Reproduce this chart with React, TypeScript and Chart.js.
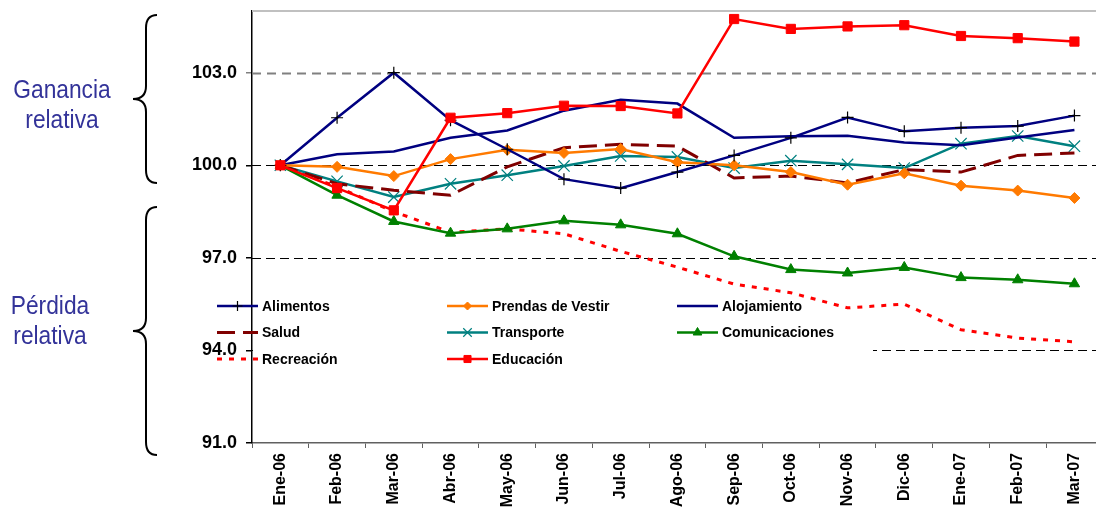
import React, { useEffect, useRef } from "react";
import { Chart, registerables } from "chart.js";
import { drawPoint } from "chart.js/helpers";

Chart.register(...registerables);

const months = ["Ene-06", "Feb-06", "Mar-06", "Abr-06", "May-06", "Jun-06", "Jul-06", "Ago-06", "Sep-06", "Oct-06", "Nov-06", "Dic-06", "Ene-07", "Feb-07", "Mar-07"];

const alimentos = [100, 101.54, 103.0, 101.46, 100.52, 99.55, 99.26, 99.78, 100.32, 100.89, 101.55, 101.1, 101.22, 101.27, 101.61];
const prendas = [100, 99.95, 99.65, 100.2, 100.5, 100.4, 100.53, 100.1, 100.0, 99.78, 99.37, 99.74, 99.34, 99.18, 98.94];
const alojamiento = [100, 100.36, 100.45, 100.89, 101.13, 101.77, 102.12, 102.0, 100.89, 100.94, 100.96, 100.74, 100.65, 100.9, 101.14];
const salud = [100, 99.4, 99.19, 99.03, 99.95, 100.57, 100.68, 100.62, 99.59, 99.65, 99.43, 99.86, 99.78, 100.32, 100.4];
const transporte = [100, 99.48, 98.97, 99.4, 99.68, 99.98, 100.3, 100.27, 99.91, 100.15, 100.03, 99.91, 100.7, 100.95, 100.62];
const comunicaciones = [100, 99.03, 98.18, 97.8, 97.94, 98.2, 98.07, 97.78, 97.05, 96.62, 96.51, 96.69, 96.36, 96.29, 96.16];
const recreacion = [100, 99.3, 98.5, 97.83, 97.94, 97.78, 97.21, 96.7, 96.15, 95.87, 95.38, 95.5, 94.67, 94.4, 94.28];
const educacion = [100, 99.26, 98.54, 101.54, 101.69, 101.93, 101.92, 101.68, 104.74, 104.42, 104.5, 104.54, 104.19, 104.12, 104.01];

const yTickValues = [91, 94, 97, 100, 103];
const yGridValues = [94, 97, 100, 103];
const yMin = 91;
const yMax = 105;

const upperLabel = ["Ganancia", "relativa"];
const lowerLabel = ["Pérdida", "relativa"];

const FONT = '"Liberation Sans", Arial, sans-serif';
Chart.defaults.font.family = FONT;

type Item = {
  label: string;
  data: number[];
  color: string;
  width: number;
  dash: number[];
  point: string | false;
  radius: number;
  pointColor: string;
  pointBorder: number;
  legendRadius: number;
};

const series: Item[] = [
  { label: "Alimentos", data: alimentos, color: "#000080", width: 2.5, dash: [], point: "cross", radius: 6, pointColor: "#000000", pointBorder: 1.2, legendRadius: 5 },
  { label: "Prendas de Vestir", data: prendas, color: "#FF7A00", width: 2.5, dash: [], point: "rectRot", radius: 5.5, pointColor: "#FF7A00", pointBorder: 1, legendRadius: 4 },
  { label: "Alojamiento", data: alojamiento, color: "#000080", width: 2.5, dash: [], point: false, radius: 0, pointColor: "#000080", pointBorder: 1, legendRadius: 0 },
  { label: "Salud", data: salud, color: "#800000", width: 3, dash: [18, 8], point: false, radius: 0, pointColor: "#800000", pointBorder: 1, legendRadius: 0 },
  { label: "Transporte", data: transporte, color: "#008080", width: 2.5, dash: [], point: "crossRot", radius: 8, pointColor: "#008080", pointBorder: 1.2, legendRadius: 6 },
  { label: "Comunicaciones", data: comunicaciones, color: "#008000", width: 2.5, dash: [], point: "triangle", radius: 6, pointColor: "#008000", pointBorder: 1, legendRadius: 5 },
  { label: "Recreación", data: recreacion, color: "#FF0000", width: 3, dash: [5, 7], point: false, radius: 0, pointColor: "#FF0000", pointBorder: 1, legendRadius: 0 },
  { label: "Educación", data: educacion, color: "#FF0000", width: 2.5, dash: [], point: "rect", radius: 6.5, pointColor: "#FF0000", pointBorder: 1, legendRadius: 5 },
];

const gridPlugin = {
  id: "customGrid",
  beforeDatasetsDraw(chart: any) {
    const { ctx, chartArea, scales } = chart;
    const y = scales.y;
    ctx.save();
    ctx.strokeStyle = "#c0c0c0";
    ctx.lineWidth = 2;
    ctx.beginPath();
    ctx.moveTo(chartArea.left, chartArea.top);
    ctx.lineTo(chartArea.right, chartArea.top);
    ctx.stroke();
    for (const v of yGridValues) {
      const py = Math.round(y.getPixelForValue(v)) + 0.5;
      if (v === 103) {
        ctx.strokeStyle = "#808080";
        ctx.lineWidth = 2;
        ctx.setLineDash([9, 6]);
      } else {
        ctx.strokeStyle = "#000000";
        ctx.lineWidth = 1;
        ctx.setLineDash([9, 5]);
      }
      ctx.beginPath();
      ctx.moveTo(chartArea.left, py);
      ctx.lineTo(chartArea.right, py);
      ctx.stroke();
    }
    ctx.setLineDash([]);
    ctx.fillStyle = "#ffffff";
    ctx.fillRect(chartArea.left + 1, 292, 873 - chartArea.left - 1, 80);
    ctx.restore();
  },
};

const legendPlugin = {
  id: "customLegend",
  afterDatasetsDraw(chart: any) {
    const { ctx } = chart;
    const cols = [217, 447, 677];
    const rows = [306, 332.5, 359];
    ctx.save();
    series.forEach((s, i) => {
      const c = i % 3;
      const r = Math.floor(i / 3);
      const x0 = cols[c];
      const yy = rows[r];
      ctx.strokeStyle = s.color;
      ctx.lineWidth = s.width;
      ctx.setLineDash(s.dash);
      ctx.beginPath();
      ctx.moveTo(x0, yy);
      ctx.lineTo(x0 + 41, yy);
      ctx.stroke();
      ctx.setLineDash([]);
      if (s.point) {
        ctx.fillStyle = s.pointColor;
        ctx.strokeStyle = s.pointColor;
        ctx.lineWidth = s.pointBorder;
        drawPoint(ctx, { pointStyle: s.point as any, radius: s.legendRadius, rotation: 0, borderWidth: s.pointBorder }, x0 + 20.5, yy);
      }
      ctx.fillStyle = "#000000";
      ctx.font = `bold 14px ${FONT}`;
      ctx.textAlign = "left";
      ctx.textBaseline = "middle";
      ctx.fillText(s.label, x0 + 45, yy + 1);
    });
    ctx.restore();
  },
};

function drawBrace(ctx: CanvasRenderingContext2D, top: number, bottom: number, xr: number, xs: number, xt: number) {
  const mid = (top + bottom) / 2;
  const k = 13;
  ctx.beginPath();
  ctx.moveTo(xr, top);
  ctx.quadraticCurveTo(xs, top, xs, top + k);
  ctx.lineTo(xs, mid - k);
  ctx.quadraticCurveTo(xs, mid, xt, mid);
  ctx.quadraticCurveTo(xs, mid, xs, mid + k);
  ctx.lineTo(xs, bottom - k);
  ctx.quadraticCurveTo(xs, bottom, xr, bottom);
  ctx.stroke();
}

const annotationPlugin = {
  id: "annotations",
  afterDraw(chart: any) {
    const { ctx } = chart;
    ctx.save();
    ctx.strokeStyle = "#000000";
    ctx.lineWidth = 2;
    drawBrace(ctx, 15, 183, 157, 146, 133);
    drawBrace(ctx, 207, 455, 157, 146, 133);
    ctx.fillStyle = "#333399";
    ctx.font = `25px ${FONT}`;
    ctx.textAlign = "center";
    ctx.textBaseline = "alphabetic";
    const drawText = (t: string, cx: number, by: number) => {
      ctx.save();
      ctx.translate(cx, by);
      ctx.scale(0.91, 1);
      ctx.fillText(t, 0, 0);
      ctx.restore();
    };
    drawText(upperLabel[0], 62, 98);
    drawText(upperLabel[1], 62, 128);
    drawText(lowerLabel[0], 50, 314);
    drawText(lowerLabel[1], 50, 344);
    ctx.restore();
  },
};

export default function App() {
  const ref = useRef<HTMLCanvasElement>(null);
  useEffect(() => {
    const chart = new Chart(ref.current as HTMLCanvasElement, {
      type: "line",
      data: {
        labels: months,
        datasets: series.map((s, i) => ({
          label: s.label,
          data: s.data,
          borderColor: s.color,
          backgroundColor: s.pointColor,
          borderWidth: s.width,
          borderDash: s.dash,
          tension: 0,
          fill: false,
          pointStyle: (s.point || "circle") as any,
          pointRadius: s.radius,
          pointHoverRadius: s.radius,
          pointBackgroundColor: s.pointColor,
          pointBorderColor: s.pointColor,
          pointBorderWidth: s.pointBorder,
          order: s.label === "Educación" ? 0 : i + 1,
        })),
      },
      options: {
        animation: false,
        responsive: false,
        devicePixelRatio: 1,
        layout: { padding: { top: 11, left: 0, right: 0, bottom: 0 } },
        plugins: {
          legend: { display: false },
          tooltip: { enabled: false },
        },
        events: [],
        scales: {
          x: {
            type: "category",
            offset: true,
            grid: {
              display: true,
              offset: true,
              drawOnChartArea: false,
              drawTicks: true,
              tickLength: 5,
              color: "#606060",
              lineWidth: 1,
            },
            border: { display: true, color: "#606060", width: 1.5 },
            ticks: {
              autoSkip: false,
              maxRotation: 90,
              minRotation: 90,
              padding: 5,
              color: "#000000",
              font: { size: 16, weight: "bold" },
            },
            afterFit: (s: any) => {
              s.height = 65;
              s.paddingLeft = 0;
              s.paddingRight = 0;
            },
          },
          y: {
            min: yMin,
            max: yMax,
            grid: {
              display: true,
              drawOnChartArea: false,
              drawTicks: true,
              tickLength: 6,
              color: (c: any) => (c.tick && c.tick.value === 103 ? "#808080" : "#000000"),
              lineWidth: 1.5,
            },
            border: { display: true, color: "#000000", width: 1.5 },
            ticks: {
              padding: 9,
              color: "#000000",
              font: { size: 18, weight: "bold" },
              callback: (v: any) => Number(v).toFixed(1),
            },
            afterBuildTicks: (s: any) => {
              s.ticks = yTickValues.map((v) => ({ value: v }));
            },
            afterFit: (s: any) => {
              s.width = 252;
              s.paddingTop = 0;
              s.paddingBottom = 0;
            },
          },
        },
      },
      plugins: [gridPlugin, legendPlugin, annotationPlugin],
    } as any);
    return () => chart.destroy();
  }, []);
  return (
    <div style={{ position: "fixed", left: 0, top: 0, width: 1096, height: 508, overflow: "hidden", background: "#ffffff" }}>
      <canvas ref={ref} width={1112} height={508} style={{ display: "block", width: 1112, height: 508 }} />
    </div>
  );
}
